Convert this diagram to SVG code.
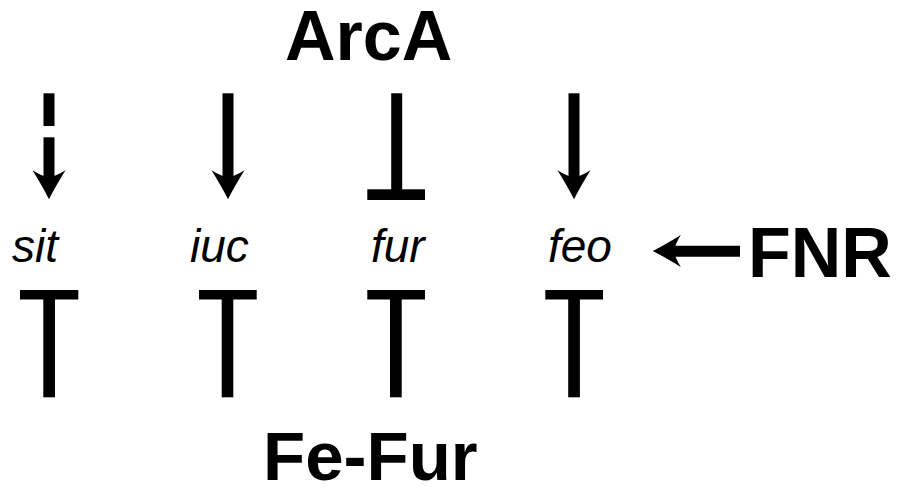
<svg xmlns="http://www.w3.org/2000/svg" width="898" height="487" viewBox="0 0 898 487">
  <style>
    .bold { font-family: "Liberation Sans", Arial, sans-serif; font-weight: bold; fill: #000; }
    .gene { font-family: "Liberation Sans", Arial, sans-serif; font-style: italic; font-size: 46px; fill: #000; }
    .shaft { stroke: #000; stroke-width: 11; fill: none; }
    .bar { fill: #000; }
  </style>
  <defs>
    <!-- barbed arrowhead, tip at origin, pointing down -->
    <path id="head" d="M0,0 Q-6,-12 -16.5,-29 Q-7,-23 0,-22 Q7,-23 16.5,-29 Q6,-12 0,0 Z" fill="#000"/>
  </defs>
  <rect width="898" height="487" fill="#fff"/>

  <!-- regulators -->
  <g id="ArcA"><text class="bold" x="285" y="60" font-size="70">ArcA</text></g>
  <g id="FNR"><text class="bold" x="748" y="277" font-size="70">FNR</text></g>
  <g id="Fe-Fur"><text class="bold" x="263" y="479.5" font-size="69">Fe-Fur</text></g>

  <!-- target genes -->
  <g id="sit"><text class="gene" x="12" y="261.5">sit</text></g>
  <g id="iuc"><text class="gene" x="190" y="261.5">iuc</text></g>
  <g id="fur"><text class="gene" x="371" y="261.5">fur</text></g>
  <g id="feo"><text class="gene" x="548" y="261.5">feo</text></g>

  <g id="connectors">
    <!-- ArcA: dashed activation of sit -->
    <line class="shaft" x1="49" y1="93.3" x2="49" y2="126"/>
    <line class="shaft" x1="49" y1="137.3" x2="49" y2="178"/>
    <use href="#head" transform="translate(49,199.3)"/>
    <!-- ArcA: activation of iuc -->
    <line class="shaft" x1="228" y1="93.3" x2="228" y2="178"/>
    <use href="#head" transform="translate(228,199.3)"/>
    <!-- ArcA: repression of fur -->
    <line class="shaft" x1="396.7" y1="93.3" x2="396.7" y2="190"/>
    <rect class="bar" x="367.3" y="189.3" width="57.7" height="10.7"/>
    <!-- ArcA: activation of feo -->
    <line class="shaft" x1="574" y1="93.3" x2="574" y2="178"/>
    <use href="#head" transform="translate(574,199.3)"/>
    <!-- FNR: activation of feo -->
    <line class="shaft" x1="674" y1="251.2" x2="740" y2="251.2"/>
    <use href="#head" transform="translate(652.7,251) rotate(90) scale(0.97,0.97)"/>
    <!-- Fe-Fur: repression of all four genes -->
    <rect class="bar" x="20" y="290" width="58.3" height="9.5"/>
    <rect class="bar" x="43.3" y="298" width="11.7" height="99.3"/>
    <rect class="bar" x="199" y="290" width="57.7" height="9.5"/>
    <rect class="bar" x="221.7" y="298" width="11.6" height="99.3"/>
    <rect class="bar" x="367.3" y="290" width="57.7" height="9.5"/>
    <rect class="bar" x="390" y="298" width="11.7" height="99.3"/>
    <rect class="bar" x="545.3" y="290" width="57.7" height="9.5"/>
    <rect class="bar" x="568.2" y="298" width="11.7" height="99.3"/>
  </g>
</svg>
